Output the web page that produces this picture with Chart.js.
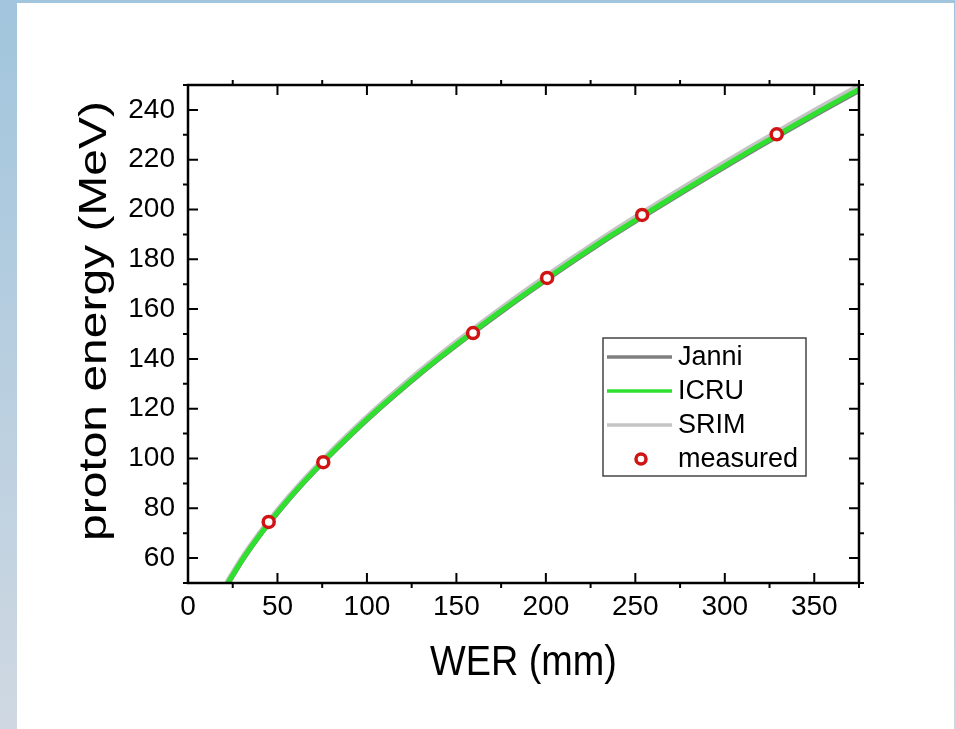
<!DOCTYPE html>
<html>
<head>
<meta charset="utf-8">
<script src="https://cdn.jsdelivr.net/npm/chart.js@4"></script>
<style>
  html, body { margin: 0; padding: 0; }
  body {
    width: 955px; height: 729px; overflow: hidden;
    background: linear-gradient(to bottom, #a1c5dd, #cfd8e2);
    position: relative;
  }
  #panel {
    position: absolute; left: 17px; top: 3px; width: 937px; height: 726px;
    background: #fff;
  }
  #chart { position: absolute; left: 0; top: 0; }
</style>
</head>
<body>
<div id="panel"><canvas id="chart" width="937" height="726"></canvas></div>
<script>
// energy grid of the model curves (MeV)
const energies = [50, 60, 70, 80, 90, 100, 110, 120, 130, 140, 150, 160, 170, 180, 190, 200, 210, 220, 230, 240, 250];
// WER (mm) for each model
const werJanni = [22.5, 31.1, 41.0, 52.1, 64.3, 77.6, 91.8, 107.0, 123.1, 140.2, 158.3, 177.1, 196.8, 217.1, 238.2, 260.6, 283.5, 306.9, 330.8, 355.5, 380.9];
const werICRU  = [22.3, 30.9, 40.8, 51.8, 64.0, 77.2, 91.4, 106.5, 122.6, 139.6, 157.7, 176.4, 196.0, 216.2, 237.3, 259.6, 282.4, 305.7, 329.5, 354.1, 379.4];
const werSRIM  = [21.9, 30.4, 40.2, 51.1, 63.2, 76.3, 90.4, 105.4, 121.4, 138.3, 156.2, 174.8, 194.2, 214.3, 235.2, 257.3, 280.0, 303.2, 326.8, 351.2, 376.3];
// measured points
const measuredWER = [45.1, 75.6, 159.3, 200.7, 253.8, 329.0];
const measuredE   = [74.5, 98.5, 150.4, 172.5, 197.8, 230.2];
// ticks
const xMajor = [0, 50, 100, 150, 200, 250, 300, 350];
const xMinor = [25, 75, 125, 175, 225, 275, 325, 375];
const yMajor = [60, 80, 100, 120, 140, 160, 180, 200, 220, 240];
const yMinor = [50, 70, 90, 110, 130, 150, 170, 190, 210, 230, 250];

const FONT = '"Liberation Sans", Arial, Helvetica, sans-serif';

function pts(xs, ys) {
    return xs.map((v, i) => ({ x: v, y: ys[i] }));
}

// frame with major ticks pointing in, minor ticks pointing out
const framePlugin = {
    id: 'frame',
    afterDatasetsDraw(chart) {
        const { ctx, chartArea: a, scales: { x, y } } = chart;
        ctx.save();
        ctx.strokeStyle = '#000';
        ctx.lineWidth = 2;
        ctx.beginPath();
        xMajor.forEach(v => {
            const px = x.getPixelForValue(v);
            ctx.moveTo(px, a.bottom); ctx.lineTo(px, a.bottom - 10);
            ctx.moveTo(px, a.top); ctx.lineTo(px, a.top + 10);
        });
        xMinor.forEach(v => {
            const px = x.getPixelForValue(v);
            ctx.moveTo(px, a.bottom); ctx.lineTo(px, a.bottom + 5);
            ctx.moveTo(px, a.top); ctx.lineTo(px, a.top - 5);
        });
        yMajor.forEach(v => {
            const py = y.getPixelForValue(v);
            ctx.moveTo(a.left, py); ctx.lineTo(a.left + 10, py);
            ctx.moveTo(a.right, py); ctx.lineTo(a.right - 10, py);
        });
        yMinor.forEach(v => {
            const py = y.getPixelForValue(v);
            ctx.moveTo(a.left, py); ctx.lineTo(a.left - 5, py);
            ctx.moveTo(a.right, py); ctx.lineTo(a.right + 5, py);
        });
        ctx.stroke();
        ctx.lineWidth = 2.5;
        ctx.strokeRect(a.left, a.top, a.right - a.left, a.bottom - a.top);
        ctx.restore();
    }
};

// axis titles (the original lettering is a bit stretched)
const titlePlugin = {
    id: 'titles',
    afterDraw(chart) {
        const { ctx, chartArea: a } = chart;
        ctx.save();
        ctx.fillStyle = '#000';
        ctx.textAlign = 'center';
        ctx.textBaseline = 'alphabetic';
        ctx.font = '42px ' + FONT;
        ctx.save();
        ctx.translate((a.left + a.right) / 2, 672);
        ctx.scale(0.9, 1);
        ctx.fillText('WER (mm)', 0, 0);
        ctx.restore();
        ctx.font = '39px ' + FONT;
        ctx.translate(89, 318);
        ctx.rotate(-Math.PI / 2);
        ctx.scale(1.23, 1);
        ctx.fillText('proton energy (MeV)', 0, 0);
        ctx.restore();
    }
};

// boxed legend inside the plot
const legendPlugin = {
    id: 'boxLegend',
    afterDraw(chart) {
        const { ctx } = chart;
        const left = 586, top = 335, w = 203, h = 138;
        ctx.save();
        ctx.fillStyle = '#fff';
        ctx.fillRect(left, top, w, h);
        ctx.strokeStyle = '#444';
        ctx.lineWidth = 1.5;
        ctx.strokeRect(left, top, w, h);
        ctx.font = '27px ' + FONT;
        ctx.textBaseline = 'middle';
        ctx.textAlign = 'left';
        chart.data.datasets.forEach((ds, i) => {
            const cy = top + 19 + i * 34;
            if (ds.showLine === false) {
                ctx.beginPath();
                ctx.arc(left + 38, cy, 5, 0, Math.PI * 2);
                ctx.fillStyle = '#fff';
                ctx.fill();
                ctx.lineWidth = 3.5;
                ctx.strokeStyle = ds.borderColor;
                ctx.stroke();
            } else {
                ctx.beginPath();
                ctx.moveTo(left + 4, cy);
                ctx.lineTo(left + 69, cy);
                ctx.lineWidth = 3.5;
                ctx.strokeStyle = ds.borderColor;
                ctx.stroke();
            }
            ctx.fillStyle = '#000';
            ctx.fillText(ds.label, left + 75, cy + 1);
        });
        ctx.restore();
    }
};

new Chart(document.getElementById('chart'), {
    type: 'line',
    data: {
        datasets: [
            {
                label: 'Janni',
                data: pts(werJanni, energies),
                borderColor: '#7f7f7f',
                borderWidth: 5,
                pointRadius: 0,
                tension: 0.3,
                order: 2
            },
            {
                label: 'ICRU',
                data: pts(werICRU, energies),
                borderColor: '#2fe02f',
                borderWidth: 5,
                pointRadius: 0,
                tension: 0.3,
                order: 1
            },
            {
                label: 'SRIM',
                data: pts(werSRIM, energies),
                borderColor: '#c4c4c4',
                borderWidth: 6,
                pointRadius: 0,
                tension: 0.3,
                order: 3
            },
            {
                label: 'measured',
                data: pts(measuredWER, measuredE),
                showLine: false,
                borderColor: '#d01414',
                backgroundColor: '#ffffff',
                pointRadius: 5.5,
                pointBorderWidth: 3.5,
                order: 0
            }
        ]
    },
    options: {
        responsive: false,
        animation: false,
        layout: { padding: { top: 82, right: 95, left: 0, bottom: 0 } },
        plugins: {
            legend: { display: false },
            tooltip: { enabled: false }
        },
        scales: {
            x: {
                type: 'linear',
                min: 0,
                max: 375,
                afterFit(s) { s.height = 146; },
                afterBuildTicks(s) { s.ticks = xMajor.map(v => ({ value: v })); },
                grid: { display: false, drawTicks: false },
                border: { display: false },
                ticks: {
                    autoSkip: false,
                    maxRotation: 0,
                    padding: 7,
                    color: '#000',
                    font: { family: FONT, size: 28 }
                }
            },
            y: {
                type: 'linear',
                min: 50,
                max: 250,
                afterFit(s) { s.width = 171; },
                afterBuildTicks(s) { s.ticks = yMajor.map(v => ({ value: v })); },
                grid: { display: false, drawTicks: false },
                border: { display: false },
                ticks: {
                    autoSkip: false,
                    padding: 13,
                    color: '#000',
                    font: { family: FONT, size: 28 }
                }
            }
        }
    },
    plugins: [framePlugin, titlePlugin, legendPlugin]
});
</script>
</body>
</html>
